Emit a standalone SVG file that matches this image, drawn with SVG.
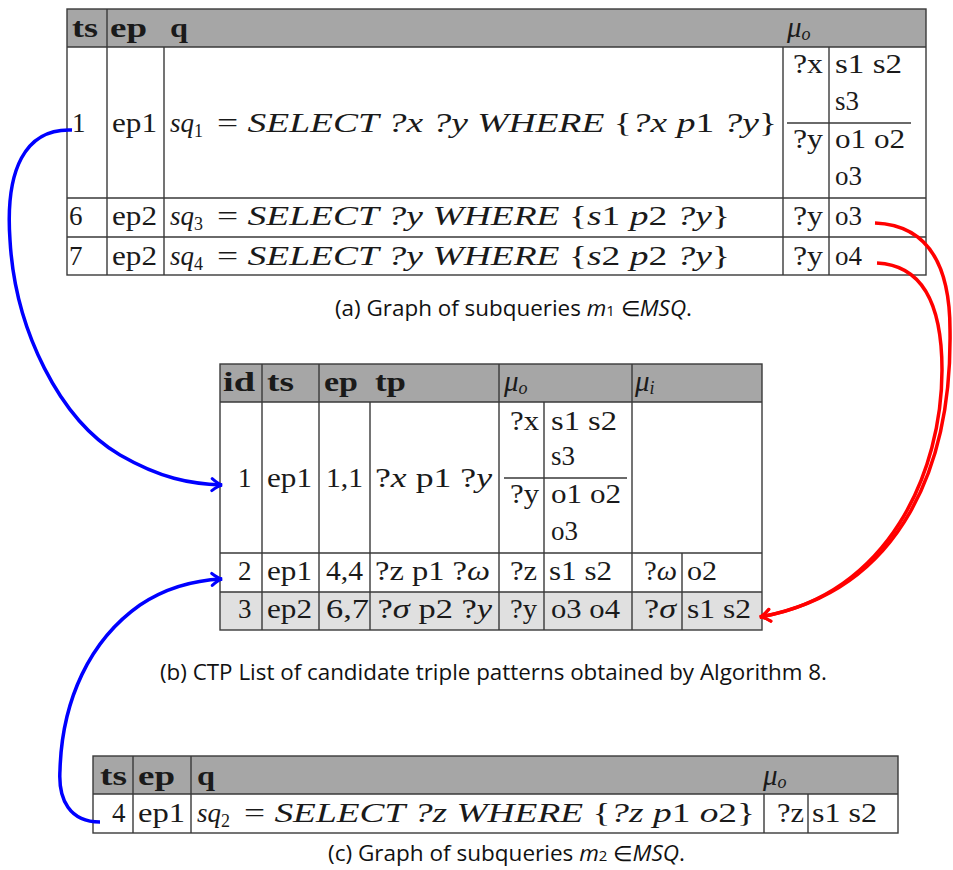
<svg xmlns="http://www.w3.org/2000/svg" width="953" height="870" viewBox="0 0 953 870">
  <style>
    .cm { font-family: "Liberation Serif", "Times New Roman", serif; font-size: 27px; fill: #1a1a1a; }
    .hd { font-weight: bold; font-size: 28px; }
    .it { font-style: italic; }
    .mu { font-style: italic; font-size: 29px; }
    .sub { font-size: 18px; }
    .cap { font-family: "Open Sans", "Noto Sans", sans-serif; font-size: 21px; fill: #111; }
    .hdr { fill: #a6a6a6; }
    .shade { fill: #e0e0e0; }
    .grid { stroke: #3a3a3a; stroke-width: 1.4; fill: none; }
    .blue { stroke: #0000ff; stroke-width: 3.5; fill: none; }
    .red { stroke: #ff0000; stroke-width: 3.5; fill: none; }
  </style>
  <defs>
    <marker id="ahBlue" viewBox="-12 -8 14 16" refX="0" refY="0" markerWidth="14" markerHeight="16" markerUnits="userSpaceOnUse" orient="auto">
      <path d="M-10,-6 Q-4,-1 0,0 Q-4,1 -10,6" fill="none" stroke="#0000ff" stroke-width="3" stroke-linecap="round"/>
    </marker>
    <marker id="ahRed" viewBox="-12 -8 14 16" refX="0" refY="0" markerWidth="14" markerHeight="16" markerUnits="userSpaceOnUse" orient="auto">
      <path d="M-10,-6 Q-4,-1 0,0 Q-4,1 -10,6" fill="none" stroke="#ff0000" stroke-width="3" stroke-linecap="round"/>
    </marker>
  </defs>
  <rect width="953" height="870" fill="#ffffff"/>

  <!-- (a) subqueries of m1 -->
  <g id="table-m1">
    <rect class="hdr" x="67" y="9" width="859" height="38"/>
    <rect class="grid" x="67" y="9" width="859" height="266"/>
    <path class="grid" d="M67,47H926 M67,198H926 M67,237H926 M107,9V275 M164,47V275 M783,47V275 M829,47V275 M787,123H911"/>
    <text class="cm hd" x="72" y="37" textLength="26" lengthAdjust="spacingAndGlyphs">ts</text>
    <text class="cm hd" x="110" y="37" textLength="37" lengthAdjust="spacingAndGlyphs">ep</text>
    <text class="cm hd" x="170" y="37" textLength="18" lengthAdjust="spacingAndGlyphs">q</text>
    <text class="cm mu" x="787" y="37">μ<tspan class="sub" dy="3">o</tspan></text>

    <text class="cm" x="72" y="132">1</text>
    <text class="cm" x="112" y="132" textLength="45" lengthAdjust="spacingAndGlyphs">ep1</text>
    <text class="cm" x="170" y="132"><tspan class="it">sq</tspan><tspan class="sub" dy="5">1</tspan></text>
    <text class="cm" x="217" y="132" textLength="560" lengthAdjust="spacingAndGlyphs">= <tspan class="it">SELECT ?x ?y WHERE </tspan>{<tspan class="it">?x p</tspan>1 <tspan class="it">?y</tspan>}</text>
    <text class="cm" x="793" y="73" textLength="30" lengthAdjust="spacingAndGlyphs">?x</text>
    <text class="cm" x="835" y="73" textLength="67" lengthAdjust="spacingAndGlyphs">s1 s2</text>
    <text class="cm" x="835" y="110">s3</text>
    <text class="cm" x="793" y="148" textLength="30" lengthAdjust="spacingAndGlyphs">?y</text>
    <text class="cm" x="835" y="148" textLength="70" lengthAdjust="spacingAndGlyphs">o1 o2</text>
    <text class="cm" x="835" y="185">o3</text>

    <text class="cm" x="69" y="225">6</text>
    <text class="cm" x="112" y="225" textLength="45" lengthAdjust="spacingAndGlyphs">ep2</text>
    <text class="cm" x="170" y="225"><tspan class="it">sq</tspan><tspan class="sub" dy="5">3</tspan></text>
    <text class="cm" x="217" y="225" textLength="513" lengthAdjust="spacingAndGlyphs">= <tspan class="it">SELECT ?y WHERE </tspan>{<tspan class="it">s</tspan>1 <tspan class="it">p</tspan>2 <tspan class="it">?y</tspan>}</text>
    <text class="cm" x="793" y="225" textLength="30" lengthAdjust="spacingAndGlyphs">?y</text>
    <text class="cm" x="835" y="225">o3</text>

    <text class="cm" x="69" y="265">7</text>
    <text class="cm" x="112" y="265" textLength="45" lengthAdjust="spacingAndGlyphs">ep2</text>
    <text class="cm" x="170" y="265"><tspan class="it">sq</tspan><tspan class="sub" dy="5">4</tspan></text>
    <text class="cm" x="217" y="265" textLength="513" lengthAdjust="spacingAndGlyphs">= <tspan class="it">SELECT ?y WHERE </tspan>{<tspan class="it">s</tspan>2 <tspan class="it">p</tspan>2 <tspan class="it">?y</tspan>}</text>
    <text class="cm" x="793" y="265" textLength="30" lengthAdjust="spacingAndGlyphs">?y</text>
    <text class="cm" x="835" y="265">o4</text>

    <text class="cap" x="335" y="316" textLength="357" lengthAdjust="spacingAndGlyphs">(a) Graph of subqueries <tspan font-style="italic">m</tspan><tspan font-size="14">1</tspan> ∈<tspan font-style="italic">MSQ</tspan>.</text>
  </g>

  <!-- (b) candidate triple patterns -->
  <g id="table-ctp">
    <rect class="hdr" x="220" y="364" width="542" height="38"/>
    <rect class="shade" x="220" y="592" width="542" height="38"/>
    <rect class="grid" x="220" y="364" width="542" height="266"/>
    <path class="grid" d="M220,402H762 M220,553H762 M220,592H762 M262,364V630 M319,364V630 M370,402V630 M499,364V630 M632,364V630 M544,402V630 M682,553V630 M504,478H627"/>
    <text class="cm hd" x="223" y="391" textLength="32" lengthAdjust="spacingAndGlyphs">id</text>
    <text class="cm hd" x="267" y="391" textLength="27" lengthAdjust="spacingAndGlyphs">ts</text>
    <text class="cm hd" x="324" y="391" textLength="34" lengthAdjust="spacingAndGlyphs">ep</text>
    <text class="cm hd" x="375" y="391" textLength="31" lengthAdjust="spacingAndGlyphs">tp</text>
    <text class="cm mu" x="504" y="391">μ<tspan class="sub" dy="3">o</tspan></text>
    <text class="cm mu" x="635" y="391">μ<tspan class="sub" dy="3">i</tspan></text>

    <text class="cm" x="238" y="487">1</text>
    <text class="cm" x="267" y="487" textLength="45" lengthAdjust="spacingAndGlyphs">ep1</text>
    <text class="cm" x="326" y="487" textLength="37" lengthAdjust="spacingAndGlyphs">1,1</text>
    <text class="cm" x="375" y="487" textLength="117" lengthAdjust="spacingAndGlyphs">?<tspan class="it">x</tspan> p1 ?<tspan class="it">y</tspan></text>
    <text class="cm" x="510" y="430" textLength="29" lengthAdjust="spacingAndGlyphs">?x</text>
    <text class="cm" x="551" y="430" textLength="66" lengthAdjust="spacingAndGlyphs">s1 s2</text>
    <text class="cm" x="551" y="465">s3</text>
    <text class="cm" x="510" y="503" textLength="29" lengthAdjust="spacingAndGlyphs">?y</text>
    <text class="cm" x="551" y="503" textLength="70" lengthAdjust="spacingAndGlyphs">o1 o2</text>
    <text class="cm" x="551" y="540">o3</text>

    <text class="cm" x="238" y="580">2</text>
    <text class="cm" x="267" y="580" textLength="45" lengthAdjust="spacingAndGlyphs">ep1</text>
    <text class="cm" x="326" y="580" textLength="37" lengthAdjust="spacingAndGlyphs">4,4</text>
    <text class="cm" x="375" y="580" textLength="115" lengthAdjust="spacingAndGlyphs">?z p1 ?<tspan class="it">ω</tspan></text>
    <text class="cm" x="510" y="580" textLength="27" lengthAdjust="spacingAndGlyphs">?z</text>
    <text class="cm" x="549" y="580" textLength="63" lengthAdjust="spacingAndGlyphs">s1 s2</text>
    <text class="cm" x="644" y="580" textLength="33" lengthAdjust="spacingAndGlyphs">?<tspan class="it">ω</tspan></text>
    <text class="cm" x="687" y="580" textLength="30" lengthAdjust="spacingAndGlyphs">o2</text>

    <text class="cm" x="238" y="618">3</text>
    <text class="cm" x="267" y="618" textLength="45" lengthAdjust="spacingAndGlyphs">ep2</text>
    <text class="cm" x="326" y="618" textLength="166" lengthAdjust="spacingAndGlyphs">6,7 ?<tspan class="it">σ</tspan> p2 ?<tspan class="it">y</tspan></text>
    <text class="cm" x="510" y="618" textLength="27" lengthAdjust="spacingAndGlyphs">?y</text>
    <text class="cm" x="551" y="618" textLength="69" lengthAdjust="spacingAndGlyphs">o3 o4</text>
    <text class="cm" x="644" y="618" textLength="32" lengthAdjust="spacingAndGlyphs">?<tspan class="it">σ</tspan></text>
    <text class="cm" x="687" y="618" textLength="64" lengthAdjust="spacingAndGlyphs">s1 s2</text>

    <text class="cap" x="160" y="680" textLength="667" lengthAdjust="spacingAndGlyphs">(b) CTP List of candidate triple patterns obtained by Algorithm 8.</text>
  </g>

  <!-- (c) subqueries of m2 -->
  <g id="table-m2">
    <rect class="hdr" x="93" y="756" width="805" height="38"/>
    <rect class="grid" x="93" y="756" width="805" height="77"/>
    <path class="grid" d="M93,794H898 M133,756V833 M191,756V833 M764,794V833 M808,794V833"/>
    <text class="cm hd" x="100" y="785" textLength="27" lengthAdjust="spacingAndGlyphs">ts</text>
    <text class="cm hd" x="138" y="785" textLength="37" lengthAdjust="spacingAndGlyphs">ep</text>
    <text class="cm hd" x="197" y="785" textLength="18" lengthAdjust="spacingAndGlyphs">q</text>
    <text class="cm mu" x="763" y="785">μ<tspan class="sub" dy="3">o</tspan></text>

    <text class="cm" x="112" y="822">4</text>
    <text class="cm" x="138" y="822" textLength="47" lengthAdjust="spacingAndGlyphs">ep1</text>
    <text class="cm" x="197" y="822"><tspan class="it">sq</tspan><tspan class="sub" dy="5">2</tspan></text>
    <text class="cm" x="244" y="822" textLength="511" lengthAdjust="spacingAndGlyphs">= <tspan class="it">SELECT ?z WHERE </tspan>{<tspan class="it">?z p</tspan>1 <tspan class="it">o</tspan>2}</text>
    <text class="cm" x="777" y="822" textLength="27" lengthAdjust="spacingAndGlyphs">?z</text>
    <text class="cm" x="812" y="822" textLength="65" lengthAdjust="spacingAndGlyphs">s1 s2</text>

    <text class="cap" x="328" y="861" textLength="357" lengthAdjust="spacingAndGlyphs">(c) Graph of subqueries <tspan font-style="italic">m</tspan><tspan font-size="14">2</tspan> ∈<tspan font-style="italic">MSQ</tspan>.</text>
  </g>

  <!-- links between rows -->
  <g id="connectors">
    <path class="blue" d="M72,130 C25,128 5,170 10,240 C15,330 60,420 120,455 C160,478 190,484 222,485" marker-end="url(#ahBlue)"/>
    <path class="blue" d="M100,822 C70,822 58,800 60,770 C62,700 90,640 140,605 C170,585 200,580 222,579" marker-end="url(#ahBlue)"/>
    <path class="red" d="M875,223 C925,225 950,260 950,330 C952,460 905,590 760,617" marker-end="url(#ahRed)"/>
    <path class="red" d="M877,263 C920,265 942,300 942,370 C942,470 890,595 760,617" marker-end="url(#ahRed)"/>
  </g>
</svg>
